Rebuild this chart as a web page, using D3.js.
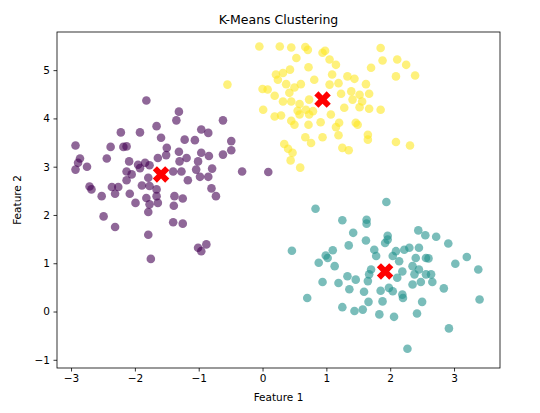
<!DOCTYPE html>
<html>
<head>
<meta charset="utf-8">
<script src="https://cdn.jsdelivr.net/npm/d3@7"></script>
<style>
  body { margin: 0; background: #fff; }
  text { font-family: "DejaVu Sans", sans-serif; }
</style>
</head>
<body>
<svg id="chart" width="540" height="413"></svg>
<script>
// cluster 0 (purple)
const purpleX = [-1.82,-1.31,-1.35,-0.62,-1.66,-2.22,-1.92,-0.96,-0.85,-1.59,-1.22,-1.06,-0.49,-2.93,-2.38,-2.18,-2.13,-1.50,-1.31,-0.96,-0.84,-0.62,-0.49,-2.44,-2.86,-2.09,-1.95,-1.84,-1.77,-1.64,-1.51,-1.19,-1.30,-1.01,-2.89,-2.75,-2.93,-2.13,-2.05,-1.92,-1.79,-1.40,-1.27,-1.04,-0.98,-0.85,-0.79,-0.32,-1.17,-2.13,-2.71,-2.68,-2.36,-2.26,-2.31,-1.89,-1.77,-1.66,-1.66,-1.64,-2.08,-2.52,-1.99,-1.82,-1.38,-1.25,-0.80,-0.73,-1.77,-1.39,-1.79,-2.49,-2.31,-1.40,-1.25,-1.79,-1.01,-0.88,-0.96,-1.75,0.09];
const purpleY = [4.37,4.14,3.96,3.96,3.84,3.71,3.71,3.77,3.70,3.60,3.56,3.55,3.53,3.44,3.41,3.41,3.42,3.39,3.31,3.29,3.22,3.25,3.34,3.17,3.17,3.11,3.04,3.08,3.03,3.18,3.24,3.18,3.11,3.11,3.08,3.00,2.94,2.90,2.84,2.97,2.77,2.90,2.90,2.94,2.79,2.79,2.96,2.90,2.72,2.72,2.59,2.53,2.58,2.58,2.44,2.61,2.60,2.53,2.39,2.25,2.44,2.39,2.25,2.35,2.39,2.34,2.55,2.39,2.22,2.19,2.06,1.97,1.75,1.85,1.82,1.59,1.32,1.39,1.25,1.09,2.89];
// cluster 1 (yellow)
const yellowX = [-0.05,0.27,0.45,0.67,0.71,0.94,0.98,1.85,0.53,1.05,1.15,1.88,2.11,2.25,0.72,1.70,0.21,0.32,0.43,0.24,0.81,1.09,1.33,1.44,2.09,2.39,0.00,0.08,0.37,0.50,0.60,1.05,1.19,1.62,0.19,0.42,1.23,1.39,1.52,1.67,0.32,0.45,0.58,0.73,1.41,1.56,0.01,0.55,0.68,0.79,1.28,1.52,1.67,1.85,0.19,0.29,0.58,0.73,1.07,0.45,0.50,0.72,0.91,1.20,1.46,1.15,1.19,1.49,0.67,0.76,0.94,1.65,1.65,0.34,0.40,0.47,1.25,1.35,2.09,2.31,0.44,0.59,-0.55];
const yellowY = [5.49,5.49,5.47,5.48,5.42,5.36,5.40,5.46,5.25,5.22,5.11,5.20,5.22,5.11,5.06,5.05,4.91,4.94,5.01,4.80,4.80,4.91,4.87,4.82,4.87,4.89,4.61,4.60,4.71,4.64,4.71,4.70,4.73,4.71,4.47,4.53,4.51,4.56,4.49,4.51,4.35,4.35,4.30,4.39,4.39,4.35,4.18,4.16,4.18,4.15,4.22,4.23,4.20,4.18,4.04,4.06,4.08,4.08,4.08,3.95,3.87,3.87,3.92,3.91,3.91,3.82,3.65,3.87,3.61,3.49,3.61,3.66,3.56,3.47,3.37,3.29,3.39,3.34,3.51,3.44,3.13,2.98,4.70];
// cluster 2 (teal)
const tealX = [1.94,0.83,1.25,1.63,1.63,1.42,2.44,2.55,2.72,1.62,1.35,1.96,1.96,1.92,2.91,0.46,1.10,0.99,1.02,0.88,1.13,1.75,1.78,2.09,2.22,2.30,2.45,2.56,2.60,2.40,3.02,3.20,3.38,1.70,2.04,2.14,2.19,2.35,2.38,2.45,2.56,2.64,2.66,2.48,2.35,1.33,1.46,1.67,1.65,2.11,0.94,1.19,1.36,1.59,1.85,1.98,2.04,2.19,2.20,2.84,0.70,1.25,1.44,1.57,1.66,1.88,2.50,1.83,2.06,2.42,3.40,2.92,2.27];
const tealY = [2.27,2.13,1.89,1.90,1.82,1.63,1.68,1.58,1.55,1.47,1.37,1.57,1.49,1.42,1.41,1.26,1.27,1.16,1.11,1.01,0.94,1.28,1.15,1.25,1.28,1.32,1.32,1.11,1.10,1.11,0.99,1.13,0.87,0.87,1.15,1.04,0.83,0.94,0.77,0.87,0.77,0.77,0.61,0.61,0.56,0.73,0.66,0.77,0.63,0.70,0.61,0.59,0.46,0.41,0.43,0.49,0.42,0.35,0.28,0.48,0.28,0.09,0.01,0.04,0.20,0.21,0.20,-0.06,-0.11,-0.04,0.25,-0.35,-0.77];
// centroids
const centerX = [-1.59, 0.94, 1.92];
const centerY = [2.84, 4.39, 0.83];

const xTicks = [-3, -2, -1, 0, 1, 2, 3];
const yTicks = [-1, 0, 1, 2, 3, 4, 5];

const svg = d3.select("#chart");
const margin = { left: 57, top: 32, right: 40, bottom: 45 };
const W = 540, H = 413;

const x = d3.scaleLinear().domain([-3.22, 3.72]).range([margin.left, W - margin.right]);
const y = d3.scaleLinear().domain([-1.17, 5.79]).range([H - margin.bottom, margin.top]);

const clusters = [
    { xs: purpleX, ys: purpleY, color: "#440154" },
    { xs: yellowX, ys: yellowY, color: "#fde725" },
    { xs: tealX, ys: tealY, color: "#21918c" }
];

clusters.forEach(c => {
    svg.append("g").selectAll("circle")
        .data(c.xs.map((v, i) => [v, c.ys[i]]))
        .enter().append("circle")
        .attr("cx", d => x(d[0]))
        .attr("cy", d => y(d[1]))
        .attr("r", 4.3)
        .attr("fill", c.color)
        .attr("fill-opacity", 0.6);
});

// centroid markers (filled X)
const xMark = d3.symbol().type(d3.symbolCross).size(170);
svg.append("g").selectAll("path")
    .data(centerX.map((v, i) => [v, centerY[i]]))
    .enter().append("path")
    .attr("d", xMark)
    .attr("transform", d => `translate(${x(d[0])},${y(d[1])}) rotate(45)`)
    .attr("fill", "red");

// axes
const fmt = d3.format("d");
const xAxis = svg.append("g")
    .attr("transform", `translate(0,${H - margin.bottom})`)
    .call(d3.axisBottom(x).tickValues(xTicks).tickFormat(fmt).tickSize(3.5).tickPadding(3.5));
const yAxis = svg.append("g")
    .attr("transform", `translate(${margin.left},0)`)
    .call(d3.axisLeft(y).tickValues(yTicks).tickFormat(fmt).tickSize(3.5).tickPadding(3.5));
[xAxis, yAxis].forEach(a => {
    a.select(".domain").remove();
    a.selectAll("text").attr("font-size", 10.5).attr("fill", "#000").style("font-family", "DejaVu Sans");
    a.selectAll("line").attr("stroke", "#000").attr("stroke-width", 0.8);
});

svg.append("rect")
    .attr("x", margin.left).attr("y", margin.top)
    .attr("width", W - margin.left - margin.right)
    .attr("height", H - margin.top - margin.bottom)
    .attr("fill", "none").attr("stroke", "#000").attr("stroke-width", 0.8);

svg.append("text").attr("x", (margin.left + W - margin.right) / 2).attr("y", 24)
    .attr("text-anchor", "middle").attr("font-size", 12.5).text("K-Means Clustering");
svg.append("text").attr("x", (margin.left + W - margin.right) / 2).attr("y", 401)
    .attr("text-anchor", "middle").attr("font-size", 10.5).text("Feature 1");
svg.append("text").attr("transform", `translate(21,${(margin.top + H - margin.bottom) / 2}) rotate(-90)`)
    .attr("text-anchor", "middle").attr("font-size", 10.5).text("Feature 2");
</script>
</body>
</html>
